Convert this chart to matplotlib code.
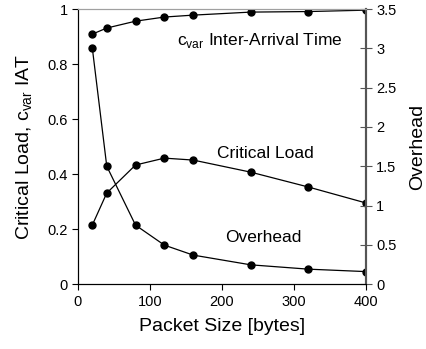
import numpy as np
import matplotlib
matplotlib.use('Agg')
import matplotlib.pyplot as plt

plt.rcParams['font.family'] = ['Liberation Sans', 'DejaVu Sans']

packetSize = [20, 40, 80, 120, 160, 240, 320, 400]
cvarIAT = [0.909, 0.931, 0.956, 0.971, 0.978, 0.989, 0.991, 0.996]
criticalLoad = [0.215, 0.331, 0.433, 0.458, 0.451, 0.407, 0.353, 0.295]
overhead = [3.0, 1.5, 0.75, 0.496, 0.369, 0.245, 0.19, 0.159]

fig = plt.figure(figsize=(4.26, 3.49), dpi=100)
ax = fig.add_axes([0.183, 0.186, 0.676, 0.788])
ax2 = ax.twinx()

ax.plot(packetSize, cvarIAT, '-o', color='black', lw=0.9, ms=5)
ax.plot(packetSize, criticalLoad, '-o', color='black', lw=0.9, ms=5)
ax2.plot(packetSize, overhead, '-o', color='black', lw=0.9, ms=5)

ax.set_xlim(0, 400)
ax.set_ylim(0, 1)
ax2.set_ylim(0, 3.5)
ax.set_xticks([0, 100, 200, 300, 400])
ax.set_yticks([0, 0.2, 0.4, 0.6, 0.8, 1])
ax.set_yticklabels(['0', '0.2', '0.4', '0.6', '0.8', '1'])
ax2.set_yticks([0, 0.5, 1, 1.5, 2, 2.5, 3, 3.5])
ax2.set_yticklabels(['0', '0.5', '1', '1.5', '2', '2.5', '3', '3.5'])

for a in (ax, ax2):
    a.spines['top'].set_color('#a0a0a0')
    a.spines['right'].set_color('#555555')
    a.spines['right'].set_linewidth(1.5)
    a.spines['left'].set_color('black')
    a.spines['bottom'].set_color('black')
ax.tick_params(axis='both', labelsize=10.5, direction='out', length=4, width=0.8)
ax2.tick_params(axis='y', labelsize=10.5, direction='inout', length=8, width=0.8,
                color='#555555')

ax.set_xlabel('Packet Size [bytes]', fontsize=14, labelpad=7)
ax.set_ylabel(r'Critical Load, c$_{\mathregular{var}}$ IAT', fontsize=14, labelpad=9)
ax2.set_ylabel('Overhead', fontsize=14, labelpad=9)

ax.text(252, 0.885, r'c$_{\mathregular{var}}$ Inter-Arrival Time', fontsize=12.5,
        ha='center', va='center')
ax.text(261, 0.475, 'Critical Load', fontsize=12.5, ha='center', va='center')
ax.text(257, 0.17, 'Overhead', fontsize=12.5, ha='center', va='center')

fig.savefig('out.png', dpi=100)
